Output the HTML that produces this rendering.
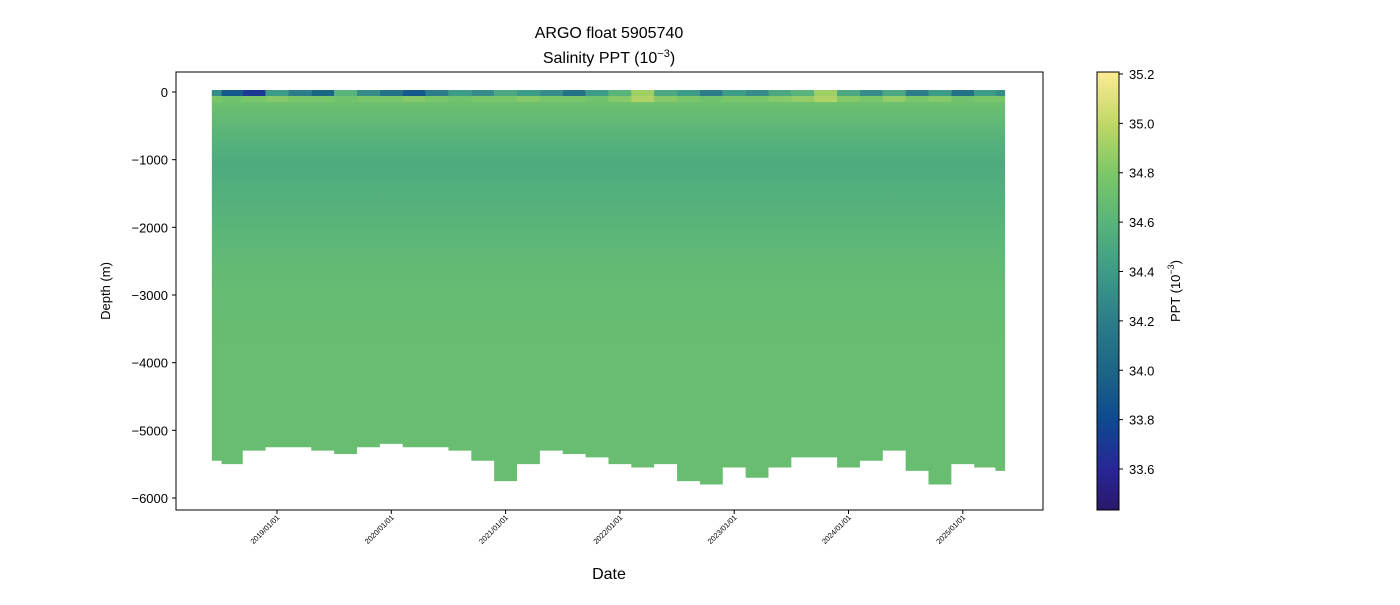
<!DOCTYPE html>
<html><head><meta charset="utf-8">
<style>
body{margin:0;background:#fff;}
svg text{font-family:"Liberation Sans","DejaVu Sans",sans-serif;fill:#000;}
</style></head>
<body>
<svg id="chart" width="1400" height="600" viewBox="0 0 1400 600" xmlns="http://www.w3.org/2000/svg">
<defs>
<linearGradient id="cbgrad" x1="0" y1="1" x2="0" y2="0"></linearGradient>
<linearGradient id="profgrad" gradientUnits="userSpaceOnUse" x1="0" y1="0" x2="0" y2="0"></linearGradient>
<clipPath id="plotclip"><rect x="176" y="72" width="867" height="438"/></clipPath>
</defs>
<text x="609" y="38" font-size="16" text-anchor="middle">ARGO float 5905740</text>
<text x="609" y="63" font-size="16" text-anchor="middle">Salinity PPT (10<tspan dy="-6" font-size="11">−3</tspan><tspan dy="6">)</tspan></text>
<g id="field" clip-path="url(#plotclip)"></g>
<rect x="176" y="72" width="867" height="438" fill="none" stroke="#000" stroke-width="1"/>
<g id="yaxis"></g>
<g id="xaxis"></g>
<text transform="translate(110,291) rotate(-90)" font-size="13" text-anchor="middle">Depth (m)</text>
<text x="609" y="579" font-size="16" text-anchor="middle">Date</text>
<rect x="1097" y="72" width="22" height="438" fill="url(#cbgrad)" stroke="#000" stroke-width="1"/>
<g id="cbaxis"></g>
<text transform="translate(1180,291) rotate(-90)" font-size="13" text-anchor="middle">PPT (10<tspan dy="-6" font-size="9">−3</tspan><tspan dy="6">)</tspan></text>
</svg>
<script>
// ---- data ----
const yTicks=[0,-1000,-2000,-3000,-4000,-5000,-6000];
const xTickYears=[2019,2020,2021,2022,2023,2024,2025];
const xTickLabels=["2019/01/01","2020/01/01","2021/01/01","2022/01/01","2023/01/01","2024/01/01","2025/01/01"];
const cbTicks=[33.6,33.8,34.0,34.2,34.4,34.6,34.8,35.0,35.2];
const profileDates=[2018.43,2018.6,2018.8,2019.0,2019.2,2019.4,2019.6,2019.8,2020.0,2020.2,2020.4,2020.6,2020.8,2021.0,2021.2,2021.4,2021.6,2021.8,2022.0,2022.2,2022.4,2022.6,2022.8,2023.0,2023.2,2023.4,2023.6,2023.8,2024.0,2024.2,2024.4,2024.6,2024.8,2025.0,2025.2,2025.37];
const bottomDepths=[-5450,-5500,-5300,-5250,-5250,-5300,-5350,-5250,-5200,-5250,-5250,-5300,-5450,-5750,-5500,-5300,-5350,-5400,-5500,-5550,-5500,-5750,-5800,-5550,-5700,-5550,-5400,-5400,-5550,-5450,-5300,-5600,-5800,-5500,-5550,-5600];
const surfaceSal=[34.3,33.9,33.7,34.4,34.2,34.0,34.6,34.3,34.1,33.9,34.2,34.4,34.3,34.5,34.4,34.3,34.1,34.4,34.6,34.9,34.5,34.4,34.2,34.4,34.3,34.5,34.6,34.9,34.5,34.3,34.5,34.2,34.4,34.1,34.4,34.3];
const subsurfSal=[34.8,34.75,34.8,34.85,34.8,34.8,34.75,34.8,34.8,34.85,34.8,34.75,34.8,34.8,34.85,34.8,34.8,34.75,34.85,35.0,34.85,34.8,34.75,34.8,34.8,34.85,34.9,35.0,34.85,34.8,34.9,34.8,34.85,34.75,34.8,34.8];
const profDepths=[0,-150,-400,-800,-1100,-1500,-2000,-2500,-3000,-4000,-6000];
const profSal=[34.68,34.72,34.66,34.56,34.53,34.56,34.61,34.65,34.68,34.69,34.69];
// ---- scales ----
const X=y=>277+(y-2019)*114.3;
const Y=d=>92-d*406/6000;
const C=v=>510-(v-33.434)*(438/(35.208-33.434));
const cmapV=[33.43,33.6,33.8,34.0,34.2,34.4,34.6,34.8,35.0,35.2];
const cmapC=[[42,24,108],[40,38,150],[14,74,144],[28,102,133],[44,125,137],[62,155,134],[88,180,122],[124,200,102],[192,216,102],[251,234,147]];
function col(v){
  if(v<=cmapV[0])return `rgb(${cmapC[0]})`;
  for(let i=1;i<cmapV.length;i++){if(v<=cmapV[i]){const t=(v-cmapV[i-1])/(cmapV[i]-cmapV[i-1]);
    const a=cmapC[i-1],b=cmapC[i];return `rgb(${a.map((x,k)=>Math.round(x+(b[k]-x)*t))})`;}}
  return `rgb(${cmapC[cmapC.length-1]})`;
}
const NS="http://www.w3.org/2000/svg";
function mk(tag,attrs,parent){const e=document.createElementNS(NS,tag);for(const k in attrs)e.setAttribute(k,attrs[k]);parent.appendChild(e);return e;}
const cbg=document.getElementById('cbgrad');
cmapV.forEach((v,i)=>{const o=(v-33.434)/(35.208-33.434);mk('stop',{offset:Math.max(0,Math.min(1,o)),'stop-color':col(v)},cbg);});
const pg=document.getElementById('profgrad');
pg.setAttribute('y1',Y(0));pg.setAttribute('y2',Y(-6000));
profDepths.forEach((d,i)=>{mk('stop',{offset:d/-6000,'stop-color':col(profSal[i])},pg);});
const field=document.getElementById('field');
let pts=`M${X(profileDates[0])},${Y(0)} L${X(profileDates[profileDates.length-1])},${Y(0)}`;
for(let i=profileDates.length-1;i>=0;i--){
  const x0=i>0?X((profileDates[i]+profileDates[i-1])/2):X(profileDates[0]);
  const x1=i<profileDates.length-1?X((profileDates[i]+profileDates[i+1])/2):X(profileDates[i]);
  pts+=` L${x1},${Y(bottomDepths[i])} L${x0},${Y(bottomDepths[i])}`;
}
pts+=' Z';
const body=mk('path',{d:pts,fill:'url(#profgrad)'},field);


profileDates.forEach((d,i)=>{
  const x0=i>0?X((d+profileDates[i-1])/2):X(d);
  const x1=i<profileDates.length-1?X((d+profileDates[i+1])/2):X(d);
  const r=mk('rect',{x:x0,y:Y(0)-2,width:x1-x0,height:6,fill:col(surfaceSal[i])},field);
  
  
  const r2=mk('rect',{x:x0,y:Y(0)+4,width:x1-x0,height:6,fill:col(subsurfSal[i]),opacity:0.8},field);
  
  
});
const ya=document.getElementById('yaxis');
yTicks.forEach(t=>{const y=Y(t);
  const l=mk('line',{x1:172,x2:176,y1:y,y2:y,stroke:'#000'},ya);
  
  const tx=mk('text',{x:168,y:y+5,'font-size':13,'text-anchor':'end'},ya);tx.textContent=t===0?'0':'−'+Math.abs(t);
  
});
const xa=document.getElementById('xaxis');
xTickYears.forEach((yr,i)=>{const x=X(yr);
  const l=mk('line',{x1:x,x2:x,y1:510,y2:514,stroke:'#000'},xa);
  
  const tx=mk('text',{x:0,y:0,'font-size':7.5,'text-anchor':'end',transform:`translate(${x+3},${518}) rotate(-45)`},xa);tx.textContent=xTickLabels[i];
  
});
const ca=document.getElementById('cbaxis');
cbTicks.forEach(v=>{const y=C(v);
  const l=mk('line',{x1:1119,x2:1123,y1:y,y2:y,stroke:'#000'},ca);
  
  const tx=mk('text',{x:1129,y:y+5,'font-size':13},ca);tx.textContent=v.toFixed(1);
  
});
</script>
</body></html>
